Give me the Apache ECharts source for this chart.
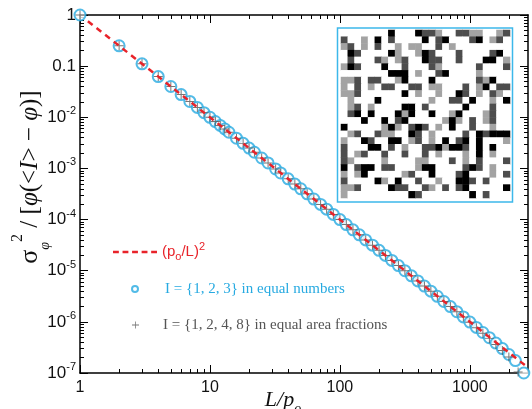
<!DOCTYPE html>
<html>
<head>
<meta charset="utf-8">
<script src="https://cdn.jsdelivr.net/npm/echarts@6/dist/echarts.min.js"></script>
<style>
    html, body { margin: 0; padding: 0; background: #fff; }
    #chart { width: 532px; height: 409px; }
</style>
</head>
<body>
<div id="chart"></div>
<script>
// L/p0 values and normalised variance, I = {1,2,3} equal numbers
var sizeA = [1, 2, 3, 4, 5, 6, 7, 8, 9, 10, 11, 12, 13, 14, 16, 18, 20, 22, 25, 28, 32, 35, 40, 45, 50, 56, 63, 71, 79, 89,
    100, 112, 126, 141, 158, 178, 200, 224, 251, 282, 316, 355, 398, 447, 501, 562, 631, 708, 794, 891,
    1000, 1122, 1259, 1413, 1585, 1778, 1995, 2239, 2600];
var varA = [1, 0.25, 0.111, 0.0625, 0.04, 0.0278, 0.0204, 0.0156, 0.0123, 0.01, 0.00826, 0.00694, 0.00592, 0.0051, 0.0039,
    0.00309, 0.0025, 0.00207, 0.0016, 0.00128, 0.000977, 0.000816, 0.000625, 0.000494, 0.0004, 0.000319, 0.000252,
    0.000198, 0.00016, 0.000126, 1.0e-4, 7.97e-5, 6.3e-5, 5.03e-5, 4.0e-5, 3.16e-5, 2.5e-5, 1.99e-5, 1.59e-5, 1.26e-5,
    1.0e-5, 7.93e-6, 6.31e-6, 5.0e-6, 3.98e-6, 3.16e-6, 2.5e-6, 1.99e-6, 1.58e-6, 1.25e-6,
    9.9e-7, 7.8e-7, 6.2e-7, 4.9e-7, 3.85e-7, 3.0e-7, 2.3e-7, 1.75e-7, 1.0e-7];
// I = {1,2,4,8} equal area fractions
var sizeB = [1, 2, 3, 4, 5, 6, 7, 8, 9, 10, 11, 12, 13, 14, 16, 18, 20, 22, 25, 28, 32, 35, 40, 45, 50, 56, 63, 71, 79, 89,
    100, 112, 126, 141, 158, 178, 200, 224, 251, 282, 316, 355, 398, 447, 501, 562, 631, 708, 794, 891,
    1000, 1122, 1259, 1413, 1585, 1778, 1995, 2350];
var varB = [1, 0.25, 0.111, 0.0625, 0.04, 0.0278, 0.0204, 0.0156, 0.0123, 0.01, 0.00826, 0.00694, 0.00592, 0.0051, 0.0039,
    0.00309, 0.0025, 0.00207, 0.0016, 0.00128, 0.000977, 0.000816, 0.000625, 0.000494, 0.0004, 0.000319, 0.000252,
    0.000198, 0.00016, 0.000126, 1.0e-4, 7.97e-5, 6.3e-5, 5.03e-5, 4.0e-5, 3.16e-5, 2.5e-5, 1.99e-5, 1.59e-5, 1.26e-5,
    1.0e-5, 7.93e-6, 6.31e-6, 5.0e-6, 3.98e-6, 3.16e-6, 2.5e-6, 1.99e-6, 1.58e-6, 1.25e-6,
    9.8e-7, 7.7e-7, 6.0e-7, 4.7e-7, 3.6e-7, 2.75e-7, 2.05e-7, 1.05e-7];
// (p0/L)^2 reference line, end points
var fitX = [1.15, 2800];
var fitY = [0.756, 1.2755e-7];

var xMajor = [1, 10, 100, 1000];
var yMajor = [1e-7, 1e-6, 1e-5, 1e-4, 1e-3, 1e-2, 0.1, 1];
var mantissa = [2, 3, 4, 5, 6, 7, 8, 9];

// inset: 25x25 grey-level map (0 white .. 3 black)
var pattern = [
    '0000000300032210022110012',
    '2001030200003023000230120',
    '1201020010110020100000000',
    '0320000310013200020000230',
    '0200021012003220020003301',
    '1320003002000210000020002',
    '0000000333010023000010000',
    '1120220013000300000021300',
    '1020102200220110002013022',
    '1120000003010010032010210',
    '0100030000000100220300103',
    '0120100003302000003000200',
    '0230300031300300130001200',
    '0003003023000001310201200',
    '3000001310232010300200100',
    '0120021100320100002032333',
    '1003200330120103023030001',
    '2000330201002231332030300',
    '2012002002002010001030100',
    '2100001000011000201020002',
    '3023302200013300002320100',
    '1013000001200300023000102',
    '2000031030020010033202000',
    '1120000322002102023000003',
    '1000000000320000000302000'
];

var minorX = [], minorY = [];
for (var d = 0; d < 4; d++) {
    mantissa.forEach(function (m) {
        var v = m * Math.pow(10, d);
        if (v < 2800) minorX.push(v);
    });
}
for (var e = -7; e < 0; e++) {
    mantissa.forEach(function (m) { minorY.push(m * Math.pow(10, e)); });
}

var cells = [];
pattern.forEach(function (row, r) {
    for (var c = 0; c < row.length; c++) cells.push([c, r, +row[c]]);
});
var idx = [];
for (var k = 0; k < 25; k++) idx.push(k);

var ptsA = sizeA.map(function (x, i) { return [x, varA[i]]; });
var ptsB = sizeB.map(function (x, i) { return [x, varB[i]]; });
var fit = fitX.map(function (x, i) { return [x, fitY[i]]; });

var cyan = '#27aae1';
var red = '#e8232a';
var grey = '#555555';
var sans = '"Liberation Sans", Arial, sans-serif';
var serif = '"Liberation Serif", "Times New Roman", serif';

function logAxis(pos, ticks, len, withLine, min, max) {
    return {
        type: 'log', logBase: 10, min: min, max: max, position: pos, gridIndex: 0,
        axisLine: {show: withLine, lineStyle: {color: '#000', width: 1.5}},
        axisTick: {show: true, inside: true, length: len, customValues: ticks, lineStyle: {color: '#000', width: 1}},
        axisLabel: {show: false},
        splitLine: {show: false}
    };
}

var xBottom = logAxis('bottom', xMajor, 8, true, 1, 2800);
xBottom.axisLabel = {
    show: true, customValues: xMajor, margin: 7, fontSize: 16, color: '#111', fontFamily: sans,
    formatter: function (v) { return String(Math.round(v)); }
};
xBottom.name = '{i|L/p}{sub|o}';
xBottom.nameLocation = 'middle';
xBottom.nameGap = 11;
xBottom.nameMoveOverlap = false;
xBottom.nameTextStyle = {
    padding: [0, 42, 0, 0],
    rich: {
        i: {fontFamily: serif, fontStyle: 'italic', fontSize: 22, color: '#111'},
        sub: {fontFamily: serif, fontStyle: 'italic', fontSize: 14, color: '#111', padding: [18, 0, 0, 0]}
    }
};

var yLeft = logAxis('left', yMajor, 8, true, 1e-7, 1);
yLeft.axisLabel = {
    show: true, customValues: yMajor, margin: 4, fontSize: 17, color: '#111', fontFamily: sans,
    formatter: function (v) {
        var p = Math.round(Math.log10(v));
        if (p === 0) return '1';
        if (p === -1) return '0.1';
        return '10{sup|' + p + '}';
    },
    rich: {
        sup: {fontSize: 11, fontFamily: sans, color: '#111', padding: [0, 0, 12, 0]}
    }
};
yLeft.name = '{s|σ}{sub|φ}{sup|2}{n| / [}{i|φ}{n|(<}{i|I}{n|> − }{i|φ}{n|)]}';
yLeft.nameLocation = 'middle';
yLeft.nameRotate = 90;
yLeft.nameGap = 25;
yLeft.nameMoveOverlap = false;
yLeft.nameTextStyle = {
    padding: [0, 0, 0, 34],
    rich: {
        s: {fontFamily: serif, fontSize: 26, color: '#111', lineHeight: 50},
        sub: {fontFamily: serif, fontStyle: 'italic', fontSize: 14, color: '#111', padding: [30, 0, 0, 0]},
        sup: {fontFamily: serif, fontSize: 16, color: '#111', padding: [0, 0, 24, 0]},
        n: {fontFamily: serif, fontSize: 25, color: '#111'},
        i: {fontFamily: serif, fontStyle: 'italic', fontSize: 25, color: '#111'}
    }
};

var option = {
    animation: false,
    backgroundColor: '#fff',
    grid: [
        {left: 80, right: 4, top: 15, bottom: 36, outerBoundsMode: 'none', containLabel: false},
        {left: 341, top: 30, width: 169, height: 168, outerBoundsMode: 'none'}
    ],
    xAxis: [
        xBottom,
        logAxis('bottom', minorX, 4, false, 1, 2800),
        logAxis('top', xMajor, 8, true, 1, 2800),
        logAxis('top', minorX, 4, false, 1, 2800),
        {type: 'category', gridIndex: 1, data: idx, show: false}
    ],
    yAxis: [
        yLeft,
        logAxis('left', minorY, 4, false, 1e-7, 1),
        logAxis('right', yMajor, 8, true, 1e-7, 1),
        logAxis('right', minorY, 4, false, 1e-7, 1),
        {type: 'category', gridIndex: 1, data: idx, inverse: true, show: false}
    ],
    visualMap: {
        type: 'piecewise', show: false, seriesIndex: 3, dimension: 2,
        pieces: [
            {value: 0, color: '#ffffff'},
            {value: 1, color: '#a3a3a3'},
            {value: 2, color: '#4d4d4d'},
            {value: 3, color: '#000000'}
        ]
    },
    legend: [
        {
            left: 113, top: 241, padding: 0, itemWidth: 44, itemHeight: 14, selectedMode: false,
            data: [{
                name: 'fit',
                icon: 'path://M0,0H5.7V2.5H0Z M9.3,0H15V2.5H9.3Z M18.6,0H24.3V2.5H18.6Z M27.9,0H33.6V2.5H27.9Z M37.2,0H42.9V2.5H37.2Z',
                itemStyle: {color: red}
            }],
            formatter: function () { return '(p{sub|o}/L){sup|2}'; },
            textStyle: {
                color: red, fontFamily: sans, fontSize: 15, lineHeight: 22,
                rich: {
                    sub: {fontSize: 11, color: red, fontFamily: sans, padding: [9, 0, 0, 0]},
                    sup: {fontSize: 11, color: red, fontFamily: sans, padding: [0, 0, 11, 0]}
                }
            }
        },
        {
            left: 131, top: 279, padding: 0, itemWidth: 6, itemHeight: 6, selectedMode: false,
            data: ['eqnum'],
            formatter: function () { return 'I = {1, 2, 3} in equal numbers'; },
            textStyle: {color: cyan, fontFamily: serif, fontSize: 15, lineHeight: 20, padding: [0, 0, 0, 22]}
        },
        {
            left: 132, top: 315, padding: 0, itemWidth: 7, itemHeight: 7, selectedMode: false,
            data: ['eqarea'],
            formatter: function () { return 'I = {1, 2, 4, 8} in equal area fractions'; },
            textStyle: {color: grey, fontFamily: serif, fontSize: 15, lineHeight: 20, padding: [0, 0, 0, 19]}
        }
    ],
    graphic: [{
        type: 'rect', silent: true,
        shape: {x: 337.5, y: 28, width: 175, height: 174},
        style: {fill: 'none', stroke: '#3cb8ea', lineWidth: 1.5}
    }],
    series: [
        {
            name: 'eqnum', type: 'scatter', data: ptsA, clip: false,
            symbol: 'emptyCircle', symbolSize: 11,
            itemStyle: {color: cyan, borderColor: cyan, borderWidth: 1}
        },
        {
            name: 'fit', type: 'line', data: fit, symbol: 'none', clip: false,
            lineStyle: {color: red, width: 2.5, type: [6, 5]},
            itemStyle: {color: red}
        },
        {
            name: 'eqarea', type: 'scatter', data: ptsB, clip: false,
            symbol: 'path://M-5,-0.55H5V0.55H-5Z M-0.55,-5H0.55V5H-0.55Z', symbolSize: 9,
            itemStyle: {color: grey}
        },
        {
            type: 'heatmap', xAxisIndex: 4, yAxisIndex: 4, data: cells,
            itemStyle: {borderWidth: 0}
        }
    ]
};

var chart = echarts.init(document.getElementById('chart'));
chart.setOption(option);
</script>
</body>
</html>
